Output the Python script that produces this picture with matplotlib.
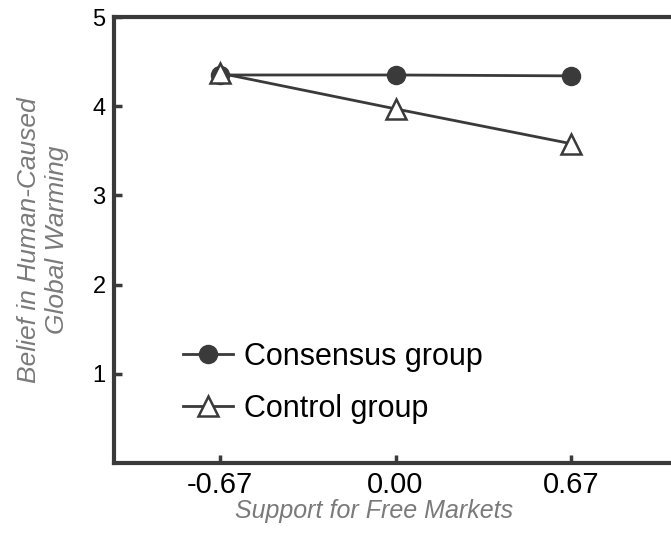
import matplotlib
matplotlib.use("Agg")
import matplotlib.pyplot as plt

x_vals = [-0.67, 0.00, 0.67]
x_labels = ["-0.67", "0.00", "0.67"]
consensus = [4.35, 4.35, 4.34]
control = [4.37, 3.97, 3.58]
y_ticks = [1, 2, 3, 4, 5]

plt.rcParams['font.family'] = ['Liberation Sans', 'DejaVu Sans']

W, H = 671, 543
fig = plt.figure(figsize=(W/100, H/100), dpi=100)
left, right, top, bottom = 114, 681, 17, 463
ax = fig.add_axes([left/W, 1-bottom/H, (right-left)/W, (bottom-top)/H])

col = '#3a3a3a'
ax.plot(x_vals, consensus, color=col, lw=2, marker='o', ms=13,
        mfc=col, mec=col, label='Consensus group', zorder=3)
ax.plot(x_vals, control, color=col, lw=2, marker='^', ms=15,
        mfc='white', mec=col, mew=1.8, label='Control group', zorder=4)

ax.set_xlim(-1.075, 1.09)
ax.set_ylim(0, 5)
ax.set_xticks(x_vals)
ax.set_xticklabels(x_labels)
ax.set_yticks(y_ticks)
ax.tick_params(direction='in', length=6, width=2.5, color=col)
ax.tick_params(axis='x', labelsize=21, pad=6)
ax.tick_params(axis='y', labelsize=17, pad=6)
for s in ax.spines.values():
    s.set_linewidth(3)
    s.set_color(col)

ax.set_xlabel('Support for Free Markets', fontsize=18, style='italic', color='#7a7a7a', labelpad=2)
ax.xaxis.set_label_coords((374 - left) / (right - left), -(511 - bottom) / (bottom - top) - 0.0)
ax.xaxis.label.set_va('center')
ax.set_ylabel('Belief in Human-Caused\nGlobal Warming', fontsize=19, style='italic',
              color='#7a7a7a', labelpad=17, linespacing=1.2)

ax.legend(loc='upper left', bbox_to_anchor=(183/W, 1-342/H), bbox_transform=fig.transFigure,
          frameon=False, fontsize=22, borderpad=0, borderaxespad=0,
          handlelength=1.65, handletextpad=0.35, labelspacing=0.72)

fig.savefig('out.png', dpi=100)
